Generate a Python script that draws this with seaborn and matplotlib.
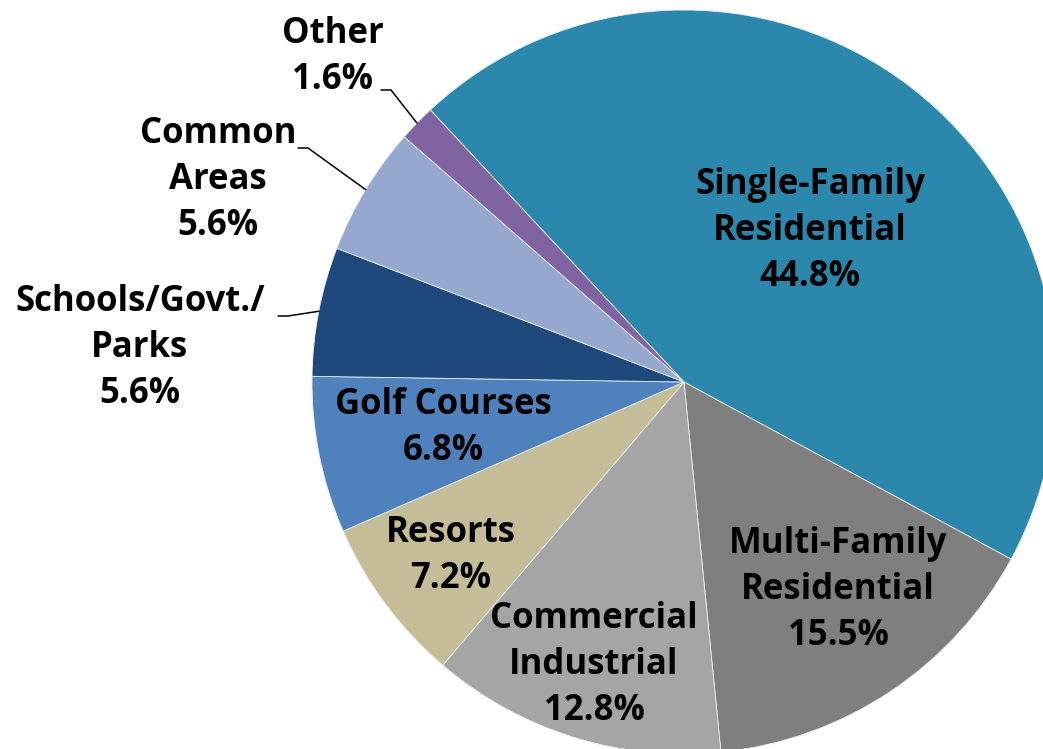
import numpy as np
import seaborn as sns
import matplotlib.pyplot as plt

# slice data, clockwise from the top-left boundary
labels = ['Single-Family\nResidential', 'Multi-Family\nResidential', 'Commercial\nIndustrial',
          'Resorts', 'Golf Courses', 'Schools/Govt./\nParks', 'Common\nAreas', 'Other']
shares = [44.8, 15.5, 12.8, 7.2, 6.8, 5.6, 5.6, 1.6]
colors = ['#2B88AC', '#7F7F7F', '#A5A5A5', '#C4BD97', '#4F81BD', '#1F497D', '#95A9D0', '#8064A2']

# label text centres (pixels, origin top-left) and whether the label sits outside with a leader
label_pos = [(810, 231), (838, 590), (594, 665), (451, 556), (443, 428),
             (140, 348), (218, 180), (333, 57)]
leader = [False, False, False, False, False, True, True, True]
leader_start = {5: (278, 316), 6: (298, 148), 7: (381, 90)}

W, H = 1043, 749
cx, cy, R = 684, 382, 372

sns.set_theme(style='white')
plt.rcParams['font.family'] = ['Open Sans', 'DejaVu Sans']

fig = plt.figure(figsize=(W / 100, H / 100), dpi=100)
ax = fig.add_axes([0, 0, 1, 1])

wedges, _ = ax.pie(shares, colors=colors, startangle=133, counterclock=False,
                   center=(cx, H - cy), radius=R,
                   wedgeprops=dict(edgecolor='#E8EEF4', linewidth=0.6))
# pie() resets the limits, so set them afterwards
ax.set_xlim(0, W)
ax.set_ylim(0, H)
ax.set_aspect('equal')
ax.axis('off')

for i, (w, lab, val) in enumerate(zip(wedges, labels, shares)):
    x, y = label_pos[i]
    ax.text(x, H - y, f'{lab}\n{val:.1f}%', ha='center', va='center', multialignment='center',
            fontsize=25, fontweight='bold', color='black', linespacing=1.36)
    if leader[i]:
        mid = np.deg2rad((w.theta1 + w.theta2) / 2)
        ex, ey = cx + R * np.cos(mid), (H - cy) + R * np.sin(mid)
        sx, sy = leader_start[i]
        ax.plot([sx, sx + 10, ex], [H - sy, H - sy, ey], color='black', lw=1.1)

fig.savefig('out.png', dpi=100)
